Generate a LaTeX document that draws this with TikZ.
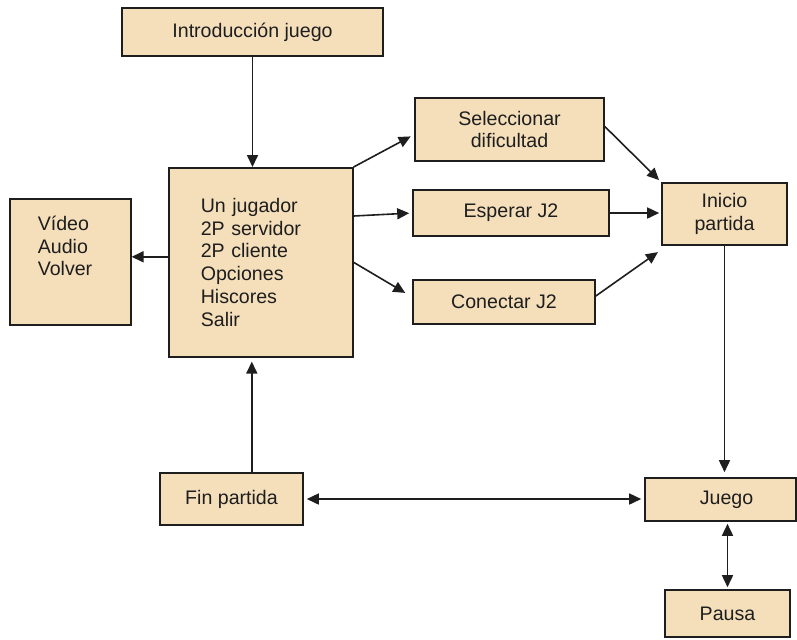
\documentclass[tikz,border=0pt]{standalone}
\usepackage{fontspec}
\setmainfont{Liberation Sans}
\usetikzlibrary{arrows.meta,calc}
\definecolor{boxfill}{RGB}{245,223,187}
\definecolor{ink}{RGB}{30,30,30}
\tikzset{
  box/.style={draw=ink, fill=boxfill, line width=0.8pt, inner sep=0pt, align=center,
    font=\fontsize{9.8}{11.4}\selectfont, text=ink},
  tip/.tip={Triangle[length=6pt,width=5.5pt]},
  conn/.style={draw=ink, line width=0.8pt, -tip},
  conn2/.style={draw=ink, line width=0.8pt, tip-tip}
}
\begin{document}
\begin{tikzpicture}[x=0.5pt,y=-0.5pt]
\useasboundingbox (0,0) rectangle (797,639);
\node[box, minimum width=130.5pt, minimum height=24pt] (intro) at (252.5,32) {Introducción juego};
\node[box, anchor=north west, text width=60pt, inner xsep=16pt, minimum height=94.5pt, align=left] (menu) at (168,167)
  {Un jugador\\2P servidor\\2P cliente\\Opciones\\Hiscores\\Salir};
\node[box, anchor=north west, inner xsep=14pt, inner ysep=8.5pt, align=left] (opts) at (9,198)
  {\parbox[c][46pt][t]{32.5pt}{Vídeo\\Audio\\Volver}};
\node[box, minimum width=94.5pt, minimum height=31.5pt] (selec) at (509.5,129.5) {Seleccionar\\dificultad};
\node[box, minimum width=98pt, minimum height=23pt] (esperar) at (511,213) {Esperar J2};
\node[box, minimum width=91pt, minimum height=22pt] (conectar) at (504,302) {Conectar J2};
\node[box, minimum width=62.5pt, minimum height=31pt] (inicio) at (724.5,214) {Inicio\\partida};
\node[box, minimum width=71.5pt, minimum height=26pt] (fin) at (231.5,499) {Fin partida};
\node[box, minimum width=75.5pt, minimum height=21.5pt] (juego) at (720.5,499.5) {\hspace*{6pt}Juego};
\node[box, minimum width=62.5pt, minimum height=23.5pt] (pausa) at (727.5,613.5) {Pausa};

\draw[conn] (intro.south) -- (intro.south |- menu.north);
\draw[conn] ([yshift=2.5pt]opts.east -| menu.west) -- ([yshift=2.5pt]opts.east);
\draw[conn, shorten >=2pt] (menu.north east) -- ([yshift=-2.5pt]selec.west);
\draw[conn, shorten >=1.5pt] ([yshift=-1.5pt]esperar.west -| menu.east) -- (esperar.west);
\draw[conn, shorten >=4pt] (menu.east) -- ([yshift=2.5pt]conectar.west);
\draw[conn, shorten >=1.5pt] ([yshift=1.5pt]selec.east) -- (inicio.north west);
\draw[conn, shorten >=1pt] (esperar.east) -- (esperar.east -| inicio.west);
\draw[conn, shorten >=2pt] ([yshift=3pt]conectar.east) -- ([yshift=-2pt]inicio.south west);
\draw[conn, shorten >=2.5pt] (inicio.south) -- (inicio.south |- juego.north);
\draw[conn2, shorten >=1.5pt, shorten <=1.5pt] (fin.east) -- (fin.east -| juego.west);
\draw[conn2, shorten >=1pt, shorten <=1pt] (pausa.north |- juego.south) -- (pausa.north);
\draw[conn, shorten >=2pt] ([xshift=-4.5pt]menu.south |- fin.north) -- ([xshift=-4.5pt]menu.south);
\end{tikzpicture}
\end{document}
